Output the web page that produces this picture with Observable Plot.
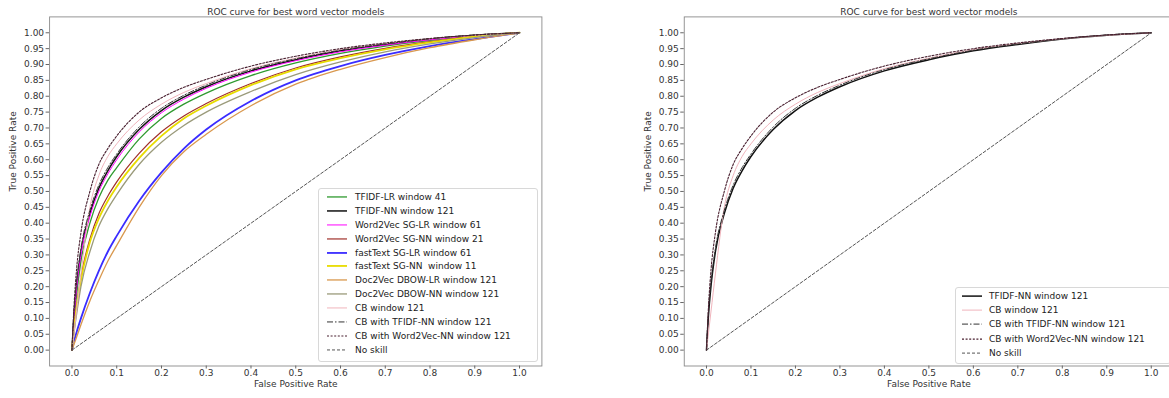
<!DOCTYPE html>
<html>
<head>
<meta charset="utf-8">
<script src="https://cdn.jsdelivr.net/npm/d3@7"></script>
<script src="https://cdn.jsdelivr.net/npm/@observablehq/plot@0.6"></script>
<style>
  html, body { margin: 0; padding: 0; background: #fff; overflow: hidden; }
  #wrap { position: relative; width: 1169px; height: 398px; overflow: hidden; font-family: "DejaVu Sans", sans-serif; }
  .panel { position: absolute; top: 0; }
  .legend { position: absolute; background: rgba(255,255,255,0.85); border: 1px solid #d8d8d8; border-radius: 3px; font-size: 9px; color: #222; box-sizing: border-box; }
  .legend .row { display: flex; align-items: center; white-space: nowrap; }
  .legend svg { flex: none; }
</style>
</head>
<body>
<div id="wrap"></div>
<script>
// ---------------- data ----------------
const chartTitle = "ROC curve for best word vector models";
const xLabel = "False Positive Rate";
const yLabel = "True Positive Rate";
const xTicks = [0, 0.1, 0.2, 0.3, 0.4, 0.5, 0.6, 0.7, 0.8, 0.9, 1.0];
const yTicks = [0, 0.05, 0.1, 0.15, 0.2, 0.25, 0.3, 0.35, 0.4, 0.45, 0.5, 0.55, 0.6, 0.65, 0.7, 0.75, 0.8, 0.85, 0.9, 0.95, 1.0];

// common false-positive-rate sample points
const fpr = [0, 0.005, 0.01, 0.02, 0.04, 0.06, 0.08, 0.1, 0.15, 0.2, 0.25, 0.3, 0.4, 0.5, 0.6, 0.7, 0.8, 0.9, 1];

// true-positive rates at those points
const tprTfidfLR   = [0, 0.10, 0.17, 0.28, 0.40, 0.48, 0.535, 0.575, 0.665, 0.73, 0.775, 0.81, 0.865, 0.905, 0.935, 0.958, 0.976, 0.99, 1];
const tprTfidfNN   = [0, 0.12, 0.20, 0.31, 0.43, 0.51, 0.565, 0.61, 0.695, 0.755, 0.797, 0.83, 0.88, 0.915, 0.943, 0.963, 0.98, 0.992, 1];
const tprW2vLR     = [0, 0.11, 0.19, 0.30, 0.42, 0.50, 0.555, 0.60, 0.687, 0.748, 0.791, 0.825, 0.876, 0.912, 0.94, 0.961, 0.978, 0.991, 1];
const tprW2vNN     = [0, 0.075, 0.135, 0.23, 0.35, 0.43, 0.485, 0.53, 0.62, 0.688, 0.738, 0.777, 0.84, 0.889, 0.924, 0.951, 0.972, 0.989, 1];
const tprFtLR      = [0, 0.03, 0.055, 0.10, 0.18, 0.25, 0.31, 0.36, 0.47, 0.56, 0.635, 0.695, 0.785, 0.85, 0.895, 0.93, 0.958, 0.98, 1];
const tprFtNN      = [0, 0.07, 0.13, 0.22, 0.34, 0.415, 0.47, 0.515, 0.605, 0.675, 0.73, 0.77, 0.835, 0.885, 0.92, 0.948, 0.97, 0.988, 1];
const tprD2vLR     = [0, 0.02, 0.04, 0.08, 0.155, 0.22, 0.28, 0.33, 0.45, 0.55, 0.625, 0.68, 0.77, 0.838, 0.885, 0.922, 0.953, 0.978, 1];
const tprD2vNN     = [0, 0.06, 0.11, 0.20, 0.31, 0.39, 0.445, 0.49, 0.585, 0.655, 0.708, 0.75, 0.815, 0.868, 0.908, 0.94, 0.965, 0.985, 1];
const tprCB        = [0, 0.06, 0.12, 0.24, 0.45, 0.55, 0.61, 0.65, 0.725, 0.775, 0.812, 0.84, 0.887, 0.92, 0.947, 0.966, 0.981, 0.992, 1];
const tprCBTfidf   = [0, 0.13, 0.21, 0.32, 0.44, 0.52, 0.575, 0.618, 0.703, 0.762, 0.803, 0.835, 0.884, 0.918, 0.945, 0.965, 0.981, 0.993, 1];
const tprCBW2v     = [0, 0.15, 0.25, 0.37, 0.50, 0.585, 0.635, 0.675, 0.75, 0.795, 0.828, 0.853, 0.895, 0.926, 0.95, 0.968, 0.982, 0.993, 1];
const noSkillX     = [0, 1];
const noSkillY     = [0, 1];

// series definitions: label, values, style
const series = {
  tfidfLR:  {label: "TFIDF-LR window 41",                 x: fpr, y: tprTfidfLR, stroke: "#2f9a2f", width: 1.3, dash: null},
  tfidfNN:  {label: "TFIDF-NN window 121",                x: fpr, y: tprTfidfNN, stroke: "#111111", width: 1.5, dash: null},
  w2vLR:    {label: "Word2Vec SG-LR window 61",           x: fpr, y: tprW2vLR,   stroke: "#ff00ff", width: 1.0, dash: null},
  w2vNN:    {label: "Word2Vec SG-NN window 21",           x: fpr, y: tprW2vNN,   stroke: "#a0302a", width: 1.2, dash: null},
  ftLR:     {label: "fastText SG-LR window 61",           x: fpr, y: tprFtLR,    stroke: "#3a2cff", width: 1.8, dash: null},
  ftNN:     {label: "fastText SG-NN  window 11",          x: fpr, y: tprFtNN,    stroke: "#e8dc00", width: 1.8, dash: null},
  d2vLR:    {label: "Doc2Vec DBOW-LR window 121",         x: fpr, y: tprD2vLR,   stroke: "#d9984e", width: 1.3, dash: null},
  d2vNN:    {label: "Doc2Vec DBOW-NN window 121",         x: fpr, y: tprD2vNN,   stroke: "#9a9a7a", width: 1.3, dash: null},
  cb:       {label: "CB window 121",                      x: fpr, y: tprCB,      stroke: "#f0b4bc", width: 1.0, dash: null},
  cbTfidf:  {label: "CB with TFIDF-NN window 121",        x: fpr, y: tprCBTfidf, stroke: "#333333", width: 1.0, dash: "6,2,1.5,2"},
  cbW2v:    {label: "CB with Word2Vec-NN window 121",     x: fpr, y: tprCBW2v,   stroke: "#4a2030", width: 1.1, dash: "2,1.6"},
  noSkill:  {label: "No skill",                           x: noSkillX, y: noSkillY, stroke: "#555555", width: 1.0, dash: "3,2"}
};

const leftKeys  = ["tfidfLR", "tfidfNN", "w2vLR", "w2vNN", "ftLR", "ftNN", "d2vLR", "d2vNN", "cb", "cbTfidf", "cbW2v", "noSkill"];
const rightKeys = ["tfidfNN", "cb", "cbTfidf", "cbW2v", "noSkill"];

// ---------------- drawing ----------------
const wrap = document.getElementById("wrap");

function lineMark(key) {
  const s = series[key];
  const pts = s.x.map((v, i) => ({fpr: v, tpr: s.y[i]}));
  const opts = {x: "fpr", y: "tpr", stroke: s.stroke, strokeWidth: s.width, curve: "monotone-x"};
  if (s.dash) opts.strokeDasharray = s.dash;
  return Plot.line(pts, opts);
}

function makePanel(keys, cfg) {
  const chart = Plot.plot({
    width: cfg.width,
    height: 398,
    marginLeft: cfg.marginLeft,
    marginRight: cfg.marginRight,
    marginTop: 16.4,
    marginBottom: 32.5,
    x: {domain: [-0.05, 1.05]},
    y: {domain: [-0.05, 1.05]},
    style: {fontFamily: "DejaVu Sans", fontSize: "9px", background: "transparent", overflow: "visible"},
    marks: [
      ...keys.map(lineMark),
      Plot.frame({stroke: "#8a8a8a", strokeWidth: 0.9}),
      Plot.axisX({ticks: xTicks, tickFormat: d3.format(".1f"), tickSize: 3, tickPadding: 0.5, stroke: "#666", fill: "#333", label: null}),
      Plot.axisY({ticks: yTicks, tickFormat: d3.format(".2f"), tickSize: 3.5, tickPadding: 2, stroke: "#666", fill: "#333", label: null}),
      Plot.text([chartTitle], {text: d => d, frameAnchor: "top", dy: -8, fill: "#333", fontSize: 9}),
      Plot.text([xLabel], {text: d => d, frameAnchor: "bottom", dy: 20.5, fill: "#333", fontSize: 9}),
      Plot.text([yLabel], {text: d => d, frameAnchor: "left", dx: -36, rotate: -90, fill: "#333", fontSize: 9})
    ]
  });
  chart.classList.add("panel");
  chart.style.left = cfg.left + "px";
  wrap.appendChild(chart);
}

function makeLegend(keys, cfg) {
  const box = document.createElement("div");
  box.className = "legend";
  Object.assign(box.style, {left: cfg.left + "px", top: cfg.top + "px", width: cfg.width + "px", padding: cfg.padding});
  keys.forEach(key => {
    const s = series[key];
    const row = document.createElement("div");
    row.className = "row";
    row.style.height = cfg.rowH + "px";
    const ns = "http://www.w3.org/2000/svg";
    const svg = document.createElementNS(ns, "svg");
    svg.setAttribute("width", 20);
    svg.setAttribute("height", cfg.rowH);
    svg.style.marginRight = cfg.gap + "px";
    const ln = document.createElementNS(ns, "line");
    ln.setAttribute("x1", 0); ln.setAttribute("x2", 20);
    ln.setAttribute("y1", cfg.rowH / 2); ln.setAttribute("y2", cfg.rowH / 2);
    ln.setAttribute("stroke", s.stroke);
    ln.setAttribute("stroke-width", s.width);
    if (s.dash) ln.setAttribute("stroke-dasharray", s.dash);
    svg.appendChild(ln);
    const t = document.createElement("span");
    t.textContent = s.label;
    t.style.whiteSpace = "pre";
    row.appendChild(svg);
    row.appendChild(t);
    box.appendChild(row);
  });
  wrap.appendChild(box);
}

makePanel(leftKeys,  {left: 0,   width: 590, marginLeft: 49.1,  marginRight: 48.6});
makePanel(rightKeys, {left: 590, width: 590, marginLeft: 93.75, marginRight: 7});

makeLegend(leftKeys,  {left: 318, top: 188, width: 220, padding: "1px 4px 4px 8px", rowH: 13.9, gap: 8});
makeLegend(rightKeys, {left: 955, top: 287, width: 216, padding: "1px 4px 3px 6px", rowH: 14.2, gap: 7});
</script>
</body>
</html>
